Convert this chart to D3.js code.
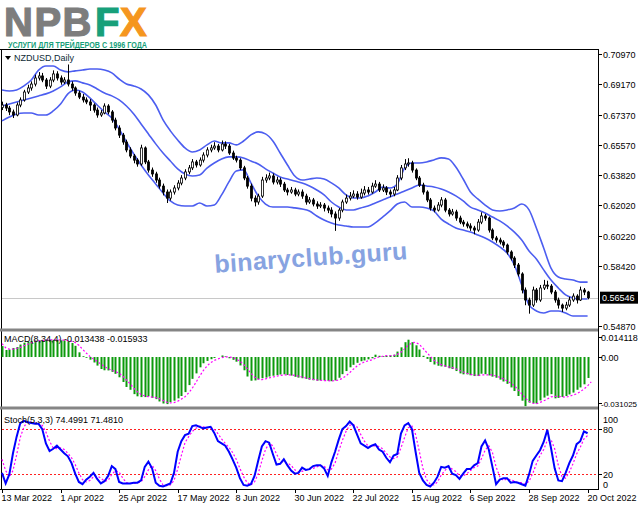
<!DOCTYPE html>
<html><head><meta charset="utf-8">
<script src="https://cdn.jsdelivr.net/npm/d3@7"></script>
<style>html,body{margin:0;padding:0;background:#fff;} svg{display:block;} text{font-family:"Liberation Sans",Arial,sans-serif;}</style>
</head><body><svg id="c" width="639" height="508"></svg>
<script>
// ---------- DATA (prices in 1e-4 units) ----------
const dateLabels = ["13 Mar 2022","1 Apr 2022","25 Apr 2022","17 May 2022","8 Jun 2022","30 Jun 2022","22 Jul 2022","15 Aug 2022","6 Sep 2022","28 Sep 2022","20 Oct 2022"];
const dateLabelBars = [0,16,32,48,64,80,96,112,128,144,160];
const priceTicks = ["0.70970","0.69170","0.67370","0.65570","0.63820","0.62020","0.60220","0.58420","0.54870"];
const macdTicks = ["0.014118","0.00","-0.031025"];
const stochTicks = ["100","80","20","0"];
const stochLevels = [80, 20];
const lastPrice = "0.56546";
const macdTitle = "MACD(8,34,4) -0.013438 -0.015933";
const stochTitle = "Stoch(5,3,3) 74.4991 71.4810";
const symbolTitle = "NZDUSD,Daily";

const opens = [6780,6795,6777,6754,6736,6795,6825,6872,6896,6919,6955,6967,6943,6907,6943,6979,6955,6931,6943,6919,
6896,6866,6842,6825,6813,6795,6765,6736,6748,6789,6754,6706,6659,6617,6576,6529,6493,6469,6446,6541,
6458,6410,6387,6351,6315,6280,6244,6280,6304,6333,6363,6399,6423,6458,6440,6469,6499,6529,6541,6552,
6529,6564,6552,6511,6481,6469,6423,6363,6315,6244,6221,6256,6351,6363,6375,6339,6351,6327,6292,6280,
6292,6268,6280,6256,6221,6233,6209,6197,6203,6185,6173,6150,6126,6173,6221,6244,6256,6268,6250,6274,
6292,6280,6315,6327,6292,6304,6280,6268,6292,6363,6423,6446,6452,6410,6363,6321,6280,6233,6185,6173,
6203,6233,6173,6150,6162,6126,6102,6091,6079,6067,6055,6102,6138,6126,6055,6008,5996,5984,5966,5925,
5889,5848,5795,5700,5641,5611,5700,5641,5712,5729,5723,5688,5641,5611,5593,5611,5641,5664,5641,5700,5688];
const highs = [6815,6808,6790,6768,6810,6840,6885,6915,6935,6975,6990,6985,6955,6960,7000,6995,6970,6960,7035,6935,
6905,6880,6860,6840,6830,6805,6780,6765,6805,6800,6765,6720,6675,6630,6590,6545,6505,6480,6560,6550,
6470,6425,6400,6365,6330,6295,6295,6320,6350,6380,6415,6440,6475,6470,6485,6515,6545,6560,6575,6565,
6585,6580,6565,6525,6495,6480,6435,6375,6330,6260,6270,6370,6385,6395,6390,6370,6365,6340,6305,6310,
6305,6295,6295,6270,6250,6245,6225,6220,6215,6200,6190,6165,6185,6235,6265,6280,6290,6285,6300,6315,
6310,6335,6350,6340,6325,6315,6295,6310,6380,6440,6475,6480,6465,6420,6375,6335,6290,6245,6200,6220,
6250,6245,6185,6180,6175,6140,6115,6105,6095,6080,6120,6160,6150,6135,6065,6020,6010,5995,5975,5935,
5900,5860,5805,5715,5655,5720,5712,5730,5760,5755,5735,5700,5655,5620,5630,5660,5680,5675,5720,5712,5695];
const lows = [6765,6760,6735,6718,6728,6782,6815,6860,6880,6905,6940,6930,6890,6895,6930,6940,6915,6920,6905,6880,
6850,6830,6810,6800,6760,6750,6720,6725,6740,6740,6690,6645,6600,6560,6515,6480,6450,6430,6435,6445,
6395,6370,6335,6300,6260,6215,6230,6265,6290,6320,6350,6385,6410,6425,6430,6455,6485,6515,6530,6515,
6520,6535,6500,6470,6455,6410,6350,6300,6225,6195,6205,6245,6335,6350,6325,6325,6310,6280,6260,6270,
6255,6255,6240,6205,6210,6195,6180,6185,6165,6155,6130,6050,6110,6160,6210,6230,6245,6235,6240,6260,
6265,6270,6305,6280,6280,6262,6250,6255,6285,6350,6410,6430,6395,6350,6310,6265,6220,6170,6160,6165,
6190,6160,6135,6140,6110,6090,6075,6065,6050,6030,6045,6090,6110,6040,5995,5980,5970,5950,5910,5875,
5830,5780,5680,5610,5560,5600,5625,5630,5700,5705,5675,5625,5590,5570,5580,5600,5630,5620,5635,5670,5645];
const closes = [6795,6777,6754,6736,6795,6825,6872,6896,6919,6955,6967,6943,6907,6943,6979,6955,6931,6943,6919,6896,
6866,6842,6825,6813,6795,6765,6736,6748,6789,6754,6706,6659,6617,6576,6529,6493,6469,6446,6541,6458,
6410,6387,6351,6315,6280,6244,6280,6304,6333,6363,6399,6423,6458,6440,6469,6499,6529,6541,6552,6529,
6564,6552,6511,6481,6469,6423,6363,6315,6244,6221,6256,6351,6363,6375,6339,6351,6327,6292,6280,6292,
6268,6280,6256,6221,6233,6209,6197,6203,6185,6173,6150,6126,6173,6221,6244,6256,6268,6250,6274,6292,
6280,6315,6327,6292,6304,6280,6268,6292,6363,6423,6446,6452,6410,6363,6321,6280,6233,6185,6173,6203,
6233,6173,6150,6162,6126,6102,6091,6079,6067,6055,6102,6138,6126,6055,6008,5996,5984,5966,5925,5889,
5848,5795,5700,5641,5611,5700,5641,5712,5729,5723,5688,5641,5611,5593,5611,5641,5664,5641,5700,5688,5654.6];

// Bollinger bands, sampled every 2 bars (bar index = 2*k)
const bandStep = 2;
const bbUpper = [6884,6878,6884,6908,6943,7002,7026,7026,7002,6991,6997,7002,7008,7008,7002,6985,6949,6920,6908,6890,
6855,6795,6707,6642,6588,6541,6517,6529,6559,6582,6571,6571,6559,6582,6618,6636,6624,6582,6511,6440,
6375,6351,6357,6363,6357,6334,6304,6263,6245,6245,6257,6280,6310,6304,6328,6422,6452,6452,6458,6470,
6482,6476,6428,6357,6280,6239,6203,6174,6168,6174,6186,6209,6174,6067,5949,5830,5777,5765,5759,5747,5747];
const bbMiddle = [6789,6801,6813,6825,6837,6849,6861,6878,6902,6932,6938,6926,6914,6890,6866,6849,6825,6789,6742,6683,
6624,6565,6511,6464,6417,6387,6375,6381,6422,6452,6476,6488,6488,6482,6464,6446,6417,6393,6369,6357,
6345,6334,6316,6292,6263,6221,6191,6174,6174,6186,6197,6215,6233,6251,6268,6286,6304,6322,6316,6310,
6298,6280,6257,6227,6191,6174,6156,6132,6109,6079,6043,5996,5931,5884,5819,5759,5712,5671,5653,5647,5647];
const bbLower = [6701,6724,6742,6748,6748,6736,6736,6760,6801,6861,6884,6872,6837,6795,6754,6718,6653,6576,6505,6440,
6381,6328,6274,6227,6203,6197,6197,6215,6197,6203,6263,6340,6405,6411,6334,6257,6209,6191,6191,6191,
6186,6180,6168,6138,6114,6097,6085,6079,6073,6073,6073,6097,6132,6168,6209,6221,6191,6191,6186,6168,
6120,6091,6067,6055,6043,6026,6008,5984,5955,5919,5848,5730,5612,5576,5564,5576,5576,5564,5546,5546,5546];

// MACD histogram and signal (1e-4 units)
const macdHist = [70,45,48,58,64,80,92,98,103,106,108,110,111,111,110,108,107,107,100,90,
72,30,5,-5,-17,-35,-55,-77,-85,-86,-95,-108,-130,-160,-192,-210,-238,-252,-257,-257,
-252,-262,-270,-285,-298,-302,-289,-280,-265,-250,-225,-180,-140,-105,-66,-40,-25,-14,-6,0,
10,4,-8,-18,-30,-54,-85,-125,-152,-150,-143,-136,-132,-125,-120,-116,-112,-111,-115,-119,
-127,-132,-136,-140,-145,-149,-152,-150,-150,-153,-155,-150,-133,-110,-90,-66,-50,-37,-27,-22,
-15,-8,15,8,5,8,11,15,35,62,95,111,95,75,48,8,-12,-32,-48,-56,
-60,-63,-72,-77,-90,-105,-111,-111,-117,-122,-122,-107,-110,-118,-126,-133,-145,-157,-172,-195,
-218,-250,-280,-315,-292,-296,-298,-278,-260,-248,-238,-265,-262,-256,-250,-240,-228,-210,-195,-175,-134.38];
const macdSignal = [86,60,50,50,55,62,72,82,92,99,103,106,108,110,110,110,109,108,105,101,
93,75,50,26,4,-13,-28,-45,-62,-75,-85,-93,-105,-123,-147,-172,-200,-223,-240,-250,
-254,-257,-260,-267,-278,-290,-294,-292,-284,-270,-255,-230,-200,-162,-123,-87,-58,-36,-22,-12,
-4,1,1,-3,-13,-27,-47,-74,-104,-128,-142,-145,-140,-134,-128,-123,-118,-115,-114,-115,
-118,-123,-128,-134,-138,-143,-147,-149,-151,-152,-153,-152,-147,-137,-121,-100,-78,-58,-43,-32,
-25,-18,-8,0,5,9,8,10,17,30,52,76,91,94,82,57,30,5,-21,-37,
-49,-57,-63,-68,-75,-86,-96,-104,-111,-115,-118,-115,-115,-114,-115,-122,-130,-140,-153,-167,
-185,-209,-236,-265,-284,-296,-300,-291,-281,-270,-256,-253,-253,-255,-258,-252,-244,-236,-222,-205,-185,-159.33];

// Stochastic main and signal (%)
const stochMain = [22,8,20,48,70,88,91,89,88,87,87,80,61,51,54,58,53,48,44,35,
21,10,7,13,17,22,14,8,11,18,31,27,10,8,8,8,9,9,12,30,
37,28,9,5,4,6,8,22,50,64,72,74,84,85,83,81,82,83,75,64,
61,58,50,40,29,15,6,5,7,18,38,57,64,62,47,33,34,40,32,25,
21,22,29,26,27,31,32,32,28,18,36,50,66,80,84,90,85,73,61,58,
55,58,60,53,50,42,36,45,47,74,85,88,80,50,22,12,6,4,9,17,
30,29,31,21,19,14,21,27,27,32,35,57,65,53,30,7,13,15,15,9,
10,9,7,5,20,38,45,52,63,79,55,28,12,11,22,35,45,60,64,77,74.4991];
const stochSignal = [40,25,17,25,46,69,83,90,89,88,87,85,76,64,55,54,55,53,48,42,
33,22,13,10,12,17,18,15,11,12,20,25,23,15,9,8,8,9,10,17,
26,32,25,14,6,5,6,12,27,45,62,70,77,81,84,83,82,82,80,74,
67,61,56,49,40,28,17,9,6,10,21,38,53,61,58,47,38,36,35,32,
26,23,24,26,27,28,30,32,31,26,27,35,51,65,77,85,86,83,73,64,
58,57,58,57,54,48,43,41,43,55,69,82,84,73,51,28,13,7,6,10,
19,25,30,27,24,18,18,21,25,29,31,41,52,58,49,30,17,12,14,13,
11,9,9,7,11,21,34,45,53,65,66,54,32,17,15,23,34,47,56,67,71.481];

// ---------- LAYOUT ----------
const W = 639, H = 508;
const plotL = 1, plotR = 598;
const P = {top: 49, bottom: 328};
const M = {top: 332, bottom: 406};
const S = {top: 410, bottom: 489};
const nBars = closes.length;
const svg = d3.select("#c");

const x = d3.scaleLinear().domain([0, nBars - 1]).range([2, 587.6]);
const yP = d3.scaleLinear().domain([0.54870, 0.70970]).range([326, 54]);
const yM = d3.scaleLinear().domain([-0.031025, 0.014118]).range([405.4, 335]);
const yS = d3.scaleLinear().domain([0, 100]).range([489.5, 414]);
const pu = v => v * 1e-4;

svg.append("rect").attr("width", W).attr("height", H).attr("fill", "#fff");

// ---------- Logo ----------
const logo = svg.append("g");
logo.append("text").attr("x", 4).attr("y", 36).text("NPB")
  .attr("font-size", 40).attr("font-weight", "bold").attr("fill", "#7d7d7d")
  .attr("stroke", "#7d7d7d").attr("stroke-width", 1.2).attr("letter-spacing", 1.5);
logo.append("text").attr("x", 95).attr("y", 36).text("F")
  .attr("font-size", 40).attr("font-weight", "bold").attr("fill", "#17a07a")
  .attr("stroke", "#17a07a").attr("stroke-width", 1.2);
logo.append("text").attr("x", 120).attr("y", 36).text("X")
  .attr("font-size", 40).attr("font-weight", "bold").attr("fill", "#f5961f")
  .attr("stroke", "#f5961f").attr("stroke-width", 1.2);
logo.append("text").attr("x", 8).attr("y", 48).text("УСЛУГИ ДЛЯ ТРЕЙДЕРОВ С 1996 ГОДА")
  .attr("font-size", 8.5).attr("font-weight", "bold").attr("fill", "#17a07a")
  .attr("textLength", 139).attr("lengthAdjust", "spacingAndGlyphs");

// ---------- Frames ----------
const frame = svg.append("g").attr("fill", "none").attr("stroke", "#000").attr("stroke-width", 1);
frame.append("line").attr("x1", 0).attr("x2", plotR).attr("y1", P.top + 0.5).attr("y2", P.top + 0.5);
frame.append("line").attr("x1", 1.5).attr("x2", 1.5).attr("y1", P.top).attr("y2", S.bottom);
frame.append("line").attr("x1", plotR + 0.5).attr("x2", plotR + 0.5).attr("y1", P.top).attr("y2", S.bottom + 1);
svg.append("rect").attr("x", 0).attr("y", 328.5).attr("width", plotR).attr("height", 3).attr("fill", "#858585");
svg.append("rect").attr("x", 0).attr("y", 406.5).attr("width", plotR).attr("height", 3).attr("fill", "#858585");
frame.append("line").attr("x1", 0).attr("x2", plotR).attr("y1", S.bottom + 0.5).attr("y2", S.bottom + 0.5);

// ---------- Price panel ----------
const priceG = svg.append("g");
priceG.append("line").attr("x1", 2).attr("x2", plotR).attr("y1", Math.round(yP(+lastPrice)) + 0.5).attr("y2", Math.round(yP(+lastPrice)) + 0.5)
  .attr("stroke", "#c8c8c8").attr("stroke-width", 1);

const bandLine = d3.line().x((d, k) => x(k * bandStep)).y(d => yP(pu(d))).curve(d3.curveMonotoneX);
[bbUpper, bbMiddle, bbLower].forEach(arr => {
  priceG.append("path").attr("d", bandLine(arr)).attr("fill", "none")
    .attr("stroke", "#4c5ef0").attr("stroke-width", 1.6);
});

const candles = priceG.selectAll("g.c").data(d3.range(nBars)).join("g");
candles.append("line")
  .attr("x1", i => Math.round(x(i)) + 0.5).attr("x2", i => Math.round(x(i)) + 0.5)
  .attr("y1", i => yP(pu(highs[i]))).attr("y2", i => yP(pu(lows[i])))
  .attr("stroke", "#000").attr("stroke-width", 1);
candles.append("rect")
  .attr("x", i => Math.round(x(i)) - 0.5).attr("width", 2)
  .attr("y", i => yP(pu(Math.max(opens[i], closes[i]))))
  .attr("height", i => Math.max(1, Math.abs(yP(pu(opens[i])) - yP(pu(closes[i])))))
  .attr("fill", i => closes[i] >= opens[i] ? "#fff" : "#000")
  .attr("stroke", "#000").attr("stroke-width", 0.8);

priceG.append("path").attr("d", "M5,56 L11,56 L8,60 Z").attr("fill", "#000");
priceG.append("text").attr("x", 14).attr("y", 61).text(symbolTitle)
  .attr("font-size", 9).attr("fill", "#0d2b36");

svg.append("text").attr("x", 311).attr("y", 266).attr("text-anchor", "middle")
  .attr("transform", "rotate(-4 311 258)")
  .text("binaryclub.guru").attr("font-size", 25).attr("font-weight", "bold")
  .attr("fill", "#7393dc").attr("opacity", 0.85).attr("letter-spacing", 0.3);

// price axis
const axisG = svg.append("g").attr("font-size", 9).attr("fill", "#000");
priceTicks.forEach(t => {
  const yy = Math.round(yP(+t)) + 0.5;
  axisG.append("line").attr("x1", plotR).attr("x2", plotR + 4).attr("y1", yy).attr("y2", yy).attr("stroke", "#000");
  axisG.append("text").attr("x", 603).attr("y", yy + 3.5).text(t);
});
const ly = yP(+lastPrice);
axisG.append("rect").attr("x", 600).attr("y", ly - 6).attr("width", 38).attr("height", 12).attr("fill", "#000");
axisG.append("text").attr("x", 602).attr("y", ly + 3.5).text(lastPrice).attr("fill", "#fff");

// ---------- MACD panel ----------
const macdG = svg.append("g");
macdG.selectAll("rect.h").data(d3.range(nBars)).join("rect")
  .attr("x", i => Math.round(x(i)) - 0.5).attr("width", 2)
  .attr("y", i => Math.min(yM(0), yM(pu(macdHist[i]))))
  .attr("height", i => Math.abs(yM(pu(macdHist[i])) - yM(0)))
  .attr("fill", "#0c9a0c");
macdG.append("path").attr("d", d3.line().x((d, i) => x(i)).y(d => yM(pu(d)))(macdSignal))
  .attr("fill", "none").attr("stroke", "#ff00ff").attr("stroke-width", 1.2).attr("stroke-dasharray", "2,2");
macdG.append("text").attr("x", 4).attr("y", 342).text(macdTitle).attr("font-size", 9).attr("fill", "#000");
const macdLabY = [337, yM(0), 403];
macdTicks.forEach((t, k) => {
  const yy = Math.round(k === 1 ? yM(+t) : macdLabY[k]) + 0.5;
  axisG.append("line").attr("x1", plotR).attr("x2", plotR + 4).attr("y1", yy).attr("y2", yy).attr("stroke", "#000");
  axisG.append("text").attr("x", 601).attr("y", yy + 3.5).text(t)
    .attr("font-size", t.length > 8 ? 8 : 9);
});

// ---------- Stochastic panel ----------
const stG = svg.append("g");
stochLevels.forEach(v => {
  stG.append("line").attr("x1", 2).attr("x2", plotR).attr("y1", Math.round(yS(v)) + 0.5).attr("y2", Math.round(yS(v)) + 0.5)
    .attr("stroke", "#ff2020").attr("stroke-width", 1).attr("stroke-dasharray", "2,2");
});
stG.append("path").attr("d", d3.line().x((d, i) => x(i)).y(d => yS(d))(stochSignal))
  .attr("fill", "none").attr("stroke", "#ff00ff").attr("stroke-width", 1.2).attr("stroke-dasharray", "2,2");
stG.append("path").attr("d", d3.line().x((d, i) => x(i)).y(d => yS(d))(stochMain))
  .attr("fill", "none").attr("stroke", "#0000ff").attr("stroke-width", 2);
stG.append("text").attr("x", 4).attr("y", 423).text(stochTitle).attr("font-size", 9).attr("fill", "#000");
stochTicks.forEach(t => {
  const yy = Math.max(S.top + 9, Math.min(S.bottom - 5, yS(+t)));
  const ty = Math.round(yS(+t)) + 0.5;
  if (+t > 0 && +t < 100) axisG.append("line").attr("x1", plotR).attr("x2", plotR + 4).attr("y1", ty).attr("y2", ty).attr("stroke", "#000");
  axisG.append("text").attr("x", 603).attr("y", yy + 3.5).text(t);
});

// ---------- Date axis ----------
dateLabelBars.forEach((b, k) => {
  const xx = Math.round(x(b)) + 0.5;
  axisG.append("line").attr("x1", xx).attr("x2", xx).attr("y1", S.bottom).attr("y2", S.bottom + 4).attr("stroke", "#000");
  axisG.append("text").attr("x", xx - 1).attr("y", 501).text(dateLabels[k]);
});
</script></body></html>
